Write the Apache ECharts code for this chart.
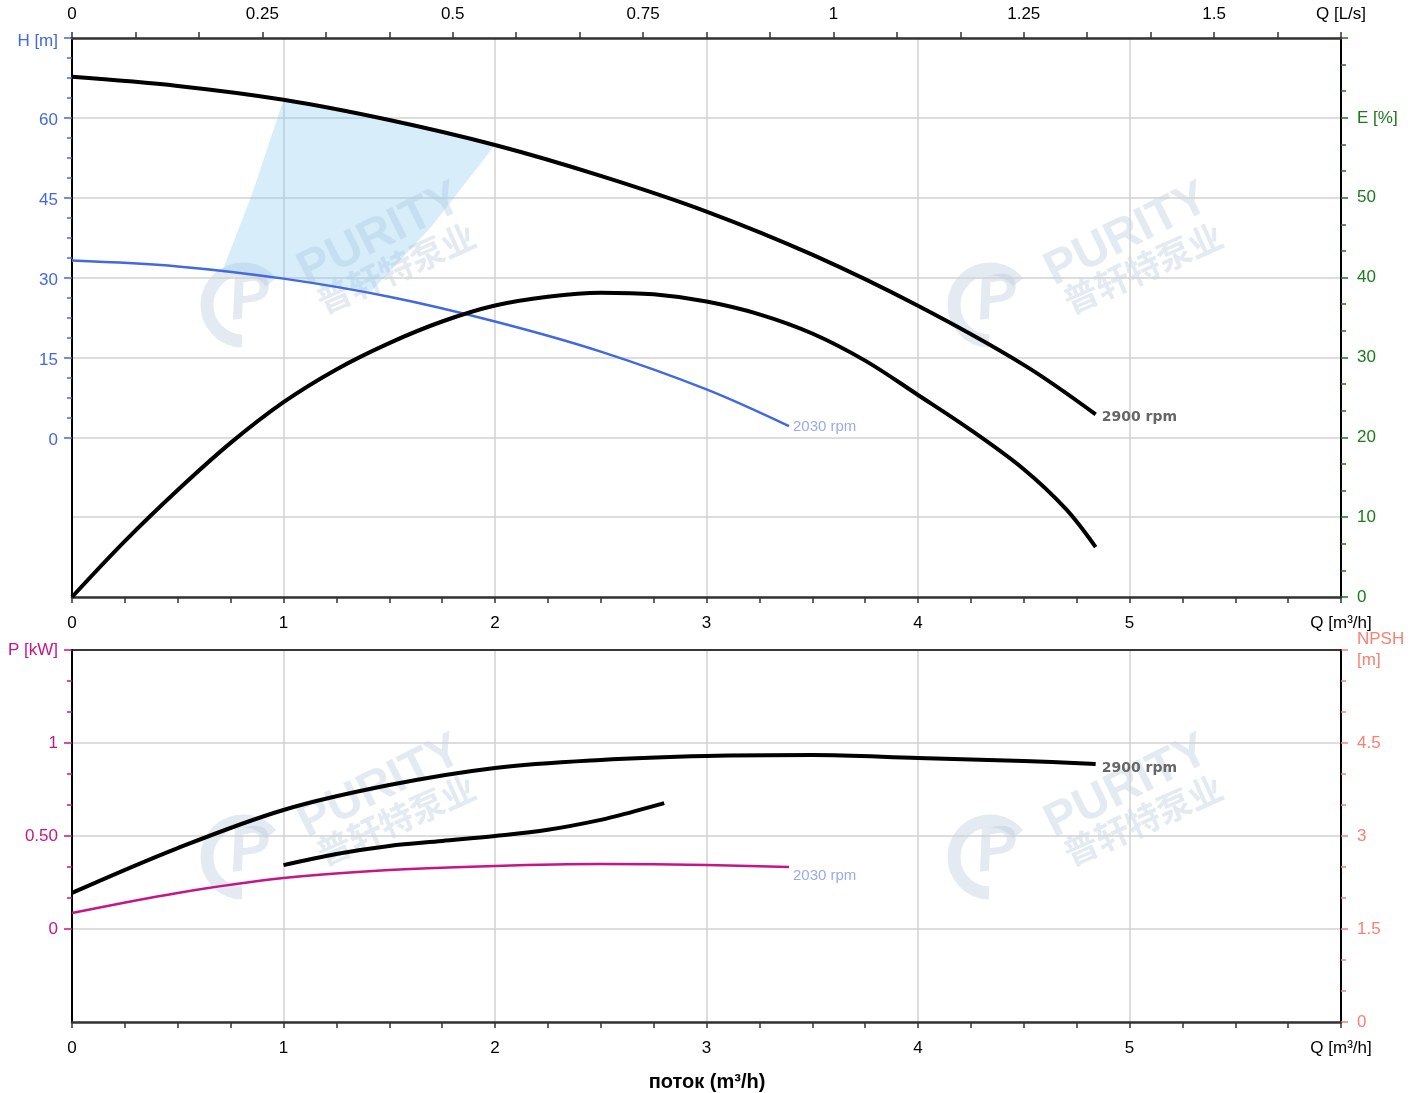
<!DOCTYPE html>
<html><head><meta charset="utf-8">
<script src="https://cdn.jsdelivr.net/npm/echarts@6/dist/echarts.min.js"></script>
<style>html,body{margin:0;padding:0;background:#fff}#c{width:1415px;height:1093px}</style>
</head><body><div id="c"></div>
<script>
// ---------- data ----------
const flowQ      = [0, 0.5, 1, 1.5, 2, 2.5, 3, 3.5, 4, 4.5, 4.84];
const head2900   = [67.7, 66.0, 63.4, 59.6, 54.9, 49.1, 42.4, 34.3, 24.7, 13.6, 4.3];
const power2900  = [0.194, 0.435, 0.64, 0.774, 0.866, 0.909, 0.93, 0.935, 0.919, 0.903, 0.887];
const flow2030   = [0, 0.5, 1, 1.5, 2, 2.5, 3, 3.39];
const head2030   = [33.2, 32.1, 29.8, 26.4, 21.75, 16.1, 9.0, 2.1];
const power2030  = [0.086, 0.194, 0.274, 0.317, 0.339, 0.349, 0.344, 0.333];
const effQ       = [0, 0.25, 0.5, 0.75, 1, 1.25, 1.5, 1.75, 2, 2.25, 2.5, 2.75, 3, 3.25, 3.5, 3.75, 4, 4.25, 4.5, 4.7, 4.84];
const eff2900    = [0, 7.0, 13.4, 19.3, 24.4, 28.5, 31.8, 34.5, 36.5, 37.6, 38.1, 37.9, 37.0, 35.4, 33.0, 29.6, 25.3, 20.9, 16.0, 11.0, 6.25];
const npshQ      = [1, 1.25, 1.5, 1.75, 2, 2.25, 2.5, 2.65, 2.8];
const npshVals   = [2.53, 2.71, 2.84, 2.92, 3.0, 3.10, 3.26, 3.39, 3.53];
const rangeQ     = [0.71, 0.85, 1, 1.25, 1.5, 1.75, 2, 1.7, 1.41, 1.2, 1.0, 0.85];
const rangeH     = [31.2, 45.5, 63.4, 61.6, 59.6, 57.4, 54.9, 39.6, 27.2, 28.6, 29.8, 30.6];

const topTickLabels   = ['0', '0.25', '0.5', '0.75', '1', '1.25', '1.5'];
const flowTickLabels  = ['0', '1', '2', '3', '4', '5'];
const headTickLabels  = ['0', '15', '30', '45', '60'];
const effTickLabels   = ['0', '10', '20', '30', '40', '50'];
const powerTickLabels = ['0', '0.50', '1'];
const npshTickLabels  = ['0', '1.5', '3', '4.5'];
const speedLabels     = ['2900 rpm', '2030 rpm'];

// ---------- styling ----------
const FONT = 'Arial, "Liberation Sans", sans-serif';
const FS = 17;
const C_H = '#4169E1', C_E = '#1b7a1b', C_P = '#C71585', C_N = '#FA8072';
const GRIDC = '#d2d2d2';
const YPAD = [4, 0, 0, 0];
const SMOOTH = 0.35;

const pairs = (xs, ys) => xs.map((x, i) => [x, ys[i]]);

const chart = echarts.init(document.getElementById('c'), null, {renderer: 'canvas'});

function xBottom(gridIndex) {
  return {
    type: 'value', gridIndex, position: 'bottom', min: 0, max: 6, interval: 1,
    axisLine: {show: true, onZero: false, lineStyle: {color: '#333', width: 2.5}},
    axisTick: {show: true, length: 6, lineStyle: {color: '#333', width: 1.5}},
    minorTick: {show: true, splitNumber: 4, length: 6, lineStyle: {color: '#333', width: 1.5}},
    splitLine: {show: true, lineStyle: {color: GRIDC, width: 1.5}},
    axisLabel: {color: '#000', fontSize: FS, fontFamily: FONT, margin: 18,
      formatter: (v, i) => i < flowTickLabels.length ? flowTickLabels[i] : 'Q [m³/h]'}
  };
}

function watermark(dx, dy) {
  const col = 'rgba(185,200,222,0.38)';
  return {
    type: 'group', x: dx, y: dy, silent: true, z: 0,
    children: [
      {type: 'arc', x: 243, y: 305, shape: {r: 36, startAngle: 1.6, endAngle: 5.6},
        style: {stroke: col, lineWidth: 13, fill: null}},
      {type: 'text', x: 250, y: 300, rotation: 0.15,
        style: {text: 'P', font: 'italic bold 62px ' + FONT, fill: col, textAlign: 'center', textVerticalAlign: 'middle'}},
      {type: 'text', x: 380, y: 235, rotation: 0.46,
        style: {text: 'PURITY', font: 'bold 48px ' + FONT, fill: col, textAlign: 'center', textVerticalAlign: 'middle'}},
      {type: 'text', x: 396, y: 268, rotation: 0.42,
        style: {text: '普轩特泵业', font: 'bold 34px "Noto Sans CJK SC"', fill: col, textAlign: 'center', textVerticalAlign: 'middle'}}
    ]
  };
}

function curve(xi, yi, xs, ys, color, width, z, endLabel) {
  const s = {
    type: 'line', xAxisIndex: xi, yAxisIndex: yi, data: pairs(xs, ys),
    smooth: SMOOTH, showSymbol: false,
    lineStyle: {color, width, cap: 'butt', join: 'round'}, z
  };
  if (endLabel) s.endLabel = endLabel;
  return s;
}

const bold2900 = (dy) => ({show: true, formatter: speedLabels[0], color: '#666', fontWeight: 'bold', fontSize: 14, fontFamily: '"DejaVu Sans"', distance: 6, offset: [0, dy]});
const thin2030 = (dy) => ({show: true, formatter: speedLabels[1], color: '#9AAAF0', fontSize: 15, fontFamily: FONT, distance: 4, offset: [0, dy]});

const option = {
  animation: false,
  backgroundColor: '#fff',
  textStyle: {fontFamily: FONT},
  grid: [
    {left: 72, right: 74, top: 38, height: 559},
    {left: 72, right: 74, top: 650, height: 372},
    {left: 72, right: 74, top: 38, height: 400},
    {left: 72, right: 74, top: 650, height: 279}
  ],
  xAxis: [
    { // top L/s axis, expressed in m³/h units (1 L/s = 3.6 m³/h)
      type: 'value', gridIndex: 0, position: 'top', min: 0, max: 6, interval: 0.3,
      axisLine: {show: true, onZero: false, lineStyle: {color: '#333', width: 2.5}},
      axisTick: {show: true, length: 6, lineStyle: {color: '#333', width: 1.5}},
      splitLine: {show: false},
      axisLabel: {color: '#000', fontSize: FS, fontFamily: FONT, margin: 15, interval: 0,
        formatter: (v, i) => (i === 20 ? 'Q [L/s]' : (i % 3 === 0 && topTickLabels[i / 3] !== undefined ? topTickLabels[i / 3] : ''))}
    },
    xBottom(0),
    xBottom(1),
    {type: 'value', gridIndex: 2, min: 0, max: 6, show: false},
    {type: 'value', gridIndex: 3, min: 0, max: 6, show: false},
    { // top border of the lower panel
      type: 'value', gridIndex: 1, position: 'top', min: 0, max: 6, z: 5,
      axisLine: {show: true, onZero: false, lineStyle: {color: '#000', width: 1.5}},
      axisTick: {show: false}, axisLabel: {show: false}, splitLine: {show: false}
    }
  ],
  yAxis: [
    { // 0: H full range (grid lines + axis line)
      type: 'value', gridIndex: 0, position: 'left', min: -30, max: 75, interval: 15,
      axisLine: {show: true, onZero: false, lineStyle: {color: '#000', width: 2}},
      axisTick: {show: false}, axisLabel: {show: false},
      splitLine: {show: true, lineStyle: {color: GRIDC, width: 1.5}}
    },
    { // 1: E right
      type: 'value', gridIndex: 0, position: 'right', min: 0, max: 70, interval: 10,
      axisLine: {show: true, onZero: false, lineStyle: {color: '#000', width: 2}},
      axisTick: {show: true, length: 7, lineStyle: {color: C_E, width: 1.5}},
      minorTick: {show: true, splitNumber: 3, length: 5, lineStyle: {color: C_E, width: 1.5}},
      splitLine: {show: false},
      axisLabel: {color: C_E, fontSize: FS, fontFamily: FONT, margin: 16, padding: YPAD,
        formatter: (v, i) => i < effTickLabels.length ? effTickLabels[i] : (i === 6 ? 'E [%]' : '')}
    },
    { // 2: P full range
      type: 'value', gridIndex: 1, position: 'left', min: -0.5, max: 1.5, interval: 0.5,
      axisLine: {show: true, onZero: false, lineStyle: {color: '#000', width: 2}},
      axisTick: {show: false}, axisLabel: {show: false},
      splitLine: {show: true, lineStyle: {color: GRIDC, width: 1.5}}
    },
    { // 3: NPSH right
      type: 'value', gridIndex: 1, position: 'right', min: 0, max: 6, interval: 1.5,
      axisLine: {show: true, onZero: false, lineStyle: {color: '#000', width: 2}},
      axisTick: {show: true, length: 7, lineStyle: {color: C_N, width: 1.5}},
      minorTick: {show: true, splitNumber: 3, length: 5, lineStyle: {color: C_N, width: 1.5}},
      splitLine: {show: false},
      axisLabel: {color: C_N, fontSize: FS, fontFamily: FONT, margin: 16, lineHeight: 21, padding: YPAD,
        formatter: (v, i) => i < npshTickLabels.length ? npshTickLabels[i] : 'NPSH\n[m]'}
    },
    { // 4: H ticks & labels (0..75)
      type: 'value', gridIndex: 2, position: 'left', min: 0, max: 75, interval: 15,
      axisLine: {show: false},
      axisTick: {show: true, length: 8, lineStyle: {color: C_H, width: 1.5}},
      minorTick: {show: true, splitNumber: 4, length: 5, lineStyle: {color: C_H, width: 1.5}},
      splitLine: {show: false},
      axisLabel: {color: C_H, fontSize: FS, fontFamily: FONT, margin: 14, padding: YPAD,
        formatter: (v, i) => i < headTickLabels.length ? headTickLabels[i] : '{n|H [m]}',
        rich: {n: {fontSize: FS, fontFamily: FONT, color: C_H, padding: [3, 0, 0, 0]}}}
    },
    { // 5: P ticks & labels (0..1.5)
      type: 'value', gridIndex: 3, position: 'left', min: 0, max: 1.5, interval: 0.5,
      axisLine: {show: false},
      axisTick: {show: true, length: 8, lineStyle: {color: C_P, width: 1.5}},
      minorTick: {show: true, splitNumber: 3, length: 5, lineStyle: {color: C_P, width: 1.5}},
      splitLine: {show: false},
      axisLabel: {color: C_P, fontSize: FS, fontFamily: FONT, margin: 14, padding: YPAD,
        formatter: (v, i) => i < powerTickLabels.length ? powerTickLabels[i] : 'P [kW]'}
    }
  ],
  graphic: [
    watermark(0, 0), watermark(747, 0), watermark(0, 552), watermark(747, 552),
    {type: 'text', x: 707, y: 1082, z: 10,
      style: {text: 'поток (m³/h)', font: 'bold 20px ' + FONT, fill: '#000', textAlign: 'center', textVerticalAlign: 'middle'}}
  ],
  series: [
    { // operating range shading
      type: 'custom', xAxisIndex: 1, yAxisIndex: 0, silent: true, z: 1,
      data: [[rangeQ[0], rangeH[0]]],
      renderItem: (params, api) => ({
        type: 'polygon',
        shape: {points: rangeQ.map((q, i) => api.coord([q, rangeH[i]]))},
        style: {fill: 'rgba(135,200,240,0.32)'}
      })
    },
    curve(1, 0, flowQ, head2900, '#000', 4, 5, bold2900(3)),
    curve(1, 0, flow2030, head2030, C_H, 2.5, 4, thin2030(1)),
    curve(1, 1, effQ, eff2900, '#000', 4, 5),
    curve(2, 2, flowQ, power2900, '#000', 4, 5, bold2900(4)),
    curve(2, 3, npshQ, npshVals, '#000', 4, 5),
    curve(2, 2, flow2030, power2030, C_P, 2.5, 4, thin2030(9))
  ]
};
chart.setOption(option);
</script>
</body></html>
